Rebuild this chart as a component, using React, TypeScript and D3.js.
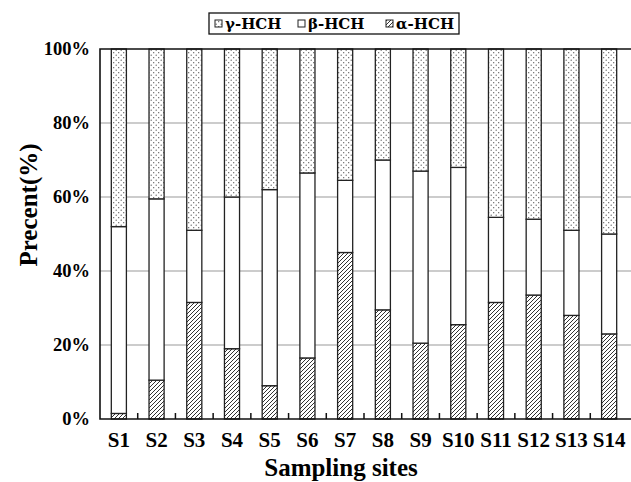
import React, { useCallback, useEffect, useRef } from "react";
import * as d3 from "d3";

// sampling sites
const sites = ["S1", "S2", "S3", "S4", "S5", "S6", "S7", "S8", "S9", "S10", "S11", "S12", "S13", "S14"];

// percentage of each isomer per site (alpha at the bottom, gamma on top)
const alphaHCH = [1.5, 10.5, 31.5, 19, 9, 16.5, 45, 29.5, 20.5, 25.5, 31.5, 33.5, 28, 23];
const betaHCH = [50.5, 49, 19.5, 41, 53, 50, 19.5, 40.5, 46.5, 42.5, 23, 20.5, 23, 27];
const gammaHCH = [48, 40.5, 49, 40, 38, 33.5, 35.5, 30, 33, 32, 45.5, 46, 49, 50];

const yTicks = [0, 20, 40, 60, 80, 100];
const legendItems = [
  { key: "gamma", label: "γ-HCH" },
  { key: "beta", label: "β-HCH" },
  { key: "alpha", label: "α-HCH" },
];

const FONT = "'Liberation Serif', 'DejaVu Serif', serif";
const LEGEND_FONT = "'DejaVu Serif', 'Liberation Serif', serif";

const App = () => {
  const svgRef = useRef<SVGSVGElement>(null);

  const renderChart = useCallback(() => {
    const root = d3.select(svgRef.current);
    root.selectChildren().remove();

    const W = 631,
      H = 482;
    const margin = { top: 49, right: 3, bottom: 63, left: 100 };
    const width = W - margin.left - margin.right;
    const height = H - margin.top - margin.bottom;

    root.attr("width", W).attr("height", H);

    // fill patterns
    const defs = root.append("defs");
    const dots = defs
      .append("pattern")
      .attr("id", "dots")
      .attr("patternUnits", "userSpaceOnUse")
      .attr("width", 5)
      .attr("height", 5);
    dots.append("rect").attr("width", 5).attr("height", 5).attr("fill", "#fff");
    dots.append("circle").attr("cx", 1.2).attr("cy", 1.2).attr("r", 0.65).attr("fill", "#555");
    dots.append("circle").attr("cx", 3.7).attr("cy", 3.7).attr("r", 0.65).attr("fill", "#555");

    const hatch = defs
      .append("pattern")
      .attr("id", "hatch")
      .attr("patternUnits", "userSpaceOnUse")
      .attr("width", 4)
      .attr("height", 4);
    hatch.append("rect").attr("width", 4).attr("height", 4).attr("fill", "#fff");
    hatch
      .append("path")
      .attr("d", "M-1,1 l2,-2 M0,4 l4,-4 M3,5 l2,-2")
      .attr("stroke", "#333")
      .attr("stroke-width", 1);

    const fills: Record<string, string> = {
      alpha: "url(#hatch)",
      beta: "#fff",
      gamma: "url(#dots)",
    };

    const g = root.append("g").attr("transform", `translate(${margin.left},${margin.top})`);

    const x = d3.scaleBand().domain(sites).range([0, width]);
    const y = d3.scaleLinear().domain([0, 100]).range([height, 0]);

    // gridlines
    g.append("g")
      .selectAll("line")
      .data(yTicks.filter((t) => t > 0 && t < 100))
      .enter()
      .append("line")
      .attr("x1", 0)
      .attr("x2", width + margin.right)
      .attr("y1", (d) => y(d))
      .attr("y2", (d) => y(d))
      .attr("stroke", "#999")
      .attr("stroke-width", 1.2);

    // stacked data
    const table = sites.map((s, i) => ({
      site: s,
      alpha: alphaHCH[i],
      beta: betaHCH[i],
      gamma: gammaHCH[i],
    }));
    const stack = d3.stack<any>().keys(["alpha", "beta", "gamma"])(table);

    const barW = x.bandwidth() * 0.4;
    g.append("g")
      .selectAll("g")
      .data(stack)
      .enter()
      .append("g")
      .attr("fill", (d) => fills[d.key])
      .selectAll("rect")
      .data((d) => d)
      .enter()
      .append("rect")
      .attr("x", (d) => (x(d.data.site) as number) + (x.bandwidth() - barW) / 2)
      .attr("width", barW)
      .attr("y", (d) => y(d[1]))
      .attr("height", (d) => y(d[0]) - y(d[1]))
      .attr("stroke", "#222")
      .attr("stroke-width", 1.3);

    // frame: left, top, bottom
    g.append("path")
      .attr("d", `M${width + margin.right},0 H0 V${height} H${width + margin.right}`)
      .attr("fill", "none")
      .attr("stroke", "#111")
      .attr("stroke-width", 1.6);

    // x ticks between categories, pointing inside
    g.append("g")
      .selectAll("line")
      .data(sites.slice(1))
      .enter()
      .append("line")
      .attr("x1", (d) => x(d) as number)
      .attr("x2", (d) => x(d) as number)
      .attr("y1", height)
      .attr("y2", height - 6)
      .attr("stroke", "#111")
      .attr("stroke-width", 1.5);

    // x labels
    g.append("g")
      .selectAll("text")
      .data(sites)
      .enter()
      .append("text")
      .attr("x", (d) => (x(d) as number) + x.bandwidth() / 2)
      .attr("y", height + 28)
      .attr("text-anchor", "middle")
      .attr("font-family", FONT)
      .attr("font-weight", "bold")
      .attr("font-size", 21)
      .text((d) => d);

    // y labels
    g.append("g")
      .selectAll("text")
      .data(yTicks)
      .enter()
      .append("text")
      .attr("x", -10)
      .attr("y", (d) => y(d) + 6)
      .attr("text-anchor", "end")
      .attr("font-family", FONT)
      .attr("font-weight", "bold")
      .attr("font-size", 18.5)
      .text((d) => d + "%");

    // axis titles
    root
      .append("text")
      .attr("x", 341)
      .attr("y", 476)
      .attr("text-anchor", "middle")
      .attr("font-family", FONT)
      .attr("font-weight", "bold")
      .attr("font-size", 25)
      .text("Sampling sites");

    root
      .append("text")
      .attr("transform", "translate(37,205) rotate(-90)")
      .attr("text-anchor", "middle")
      .attr("font-family", FONT)
      .attr("font-weight", "bold")
      .attr("font-size", 25)
      .text("Precent(%)");

    // legend
    const lg = root.append("g").attr("transform", "translate(209,13)");
    lg.append("rect")
      .attr("width", 250)
      .attr("height", 21)
      .attr("fill", "#fff")
      .attr("stroke", "#111")
      .attr("stroke-width", 1.3);
    const offsets = [6, 89, 177];
    const item = lg
      .selectAll("g.item")
      .data(legendItems)
      .enter()
      .append("g")
      .attr("class", "item")
      .attr("transform", (d, i) => `translate(${offsets[i]},0)`);
    item
      .append("rect")
      .attr("y", 7)
      .attr("width", 7)
      .attr("height", 7)
      .attr("fill", (d) => fills[d.key])
      .attr("stroke", "#222")
      .attr("stroke-width", 1);
    item
      .append("text")
      .attr("x", 10)
      .attr("y", 16)
      .attr("font-family", LEGEND_FONT)
      .attr("font-weight", "bold")
      .attr("font-size", 15)
      .text((d) => d.label);

    return g;
  }, []);

  useEffect(() => {
    renderChart();
  }, [renderChart]);

  return (
    <div style={{ position: "absolute", left: 0, top: 0, background: "#fff" }}>
      <svg ref={svgRef} style={{ display: "block" }}></svg>
    </div>
  );
};

export default App;
